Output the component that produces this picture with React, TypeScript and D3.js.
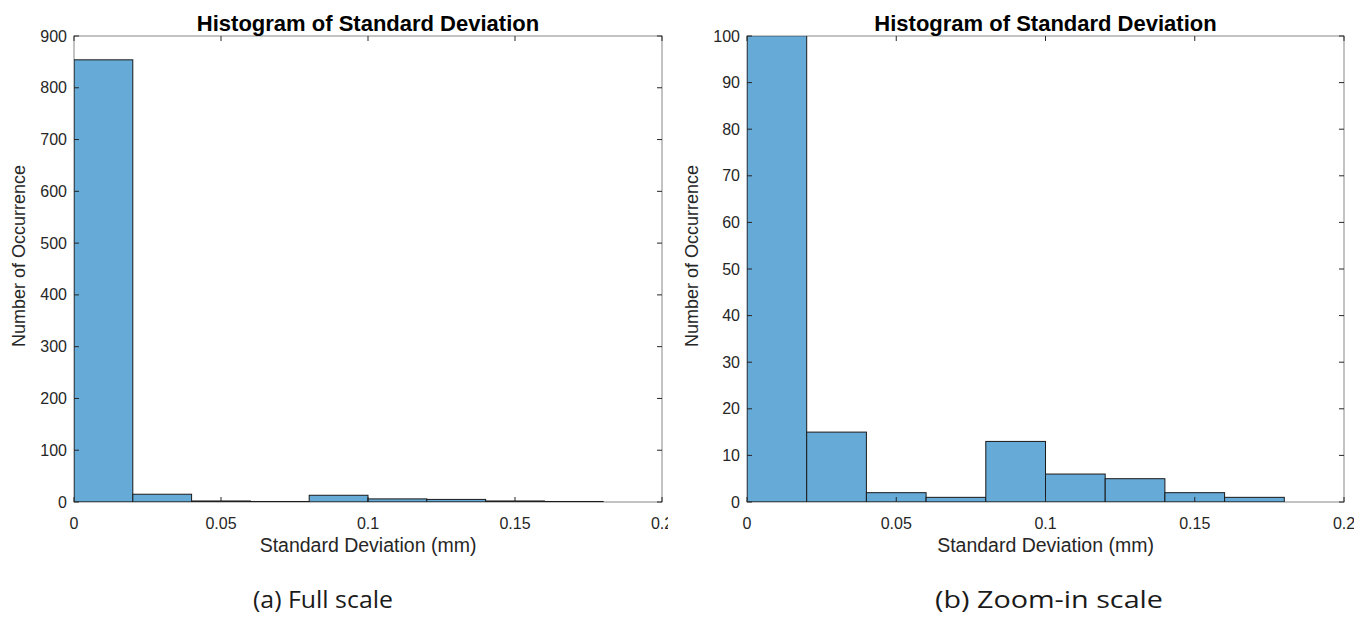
// Two MATLAB-style histograms of standard deviation, full scale and zoomed in.
import * as d3 from "d3";

const binEdges = [0, 0.02, 0.04, 0.06, 0.08, 0.1, 0.12, 0.14, 0.16, 0.18, 0.2];
const counts = [854, 15, 2, 1, 13, 6, 5, 2, 1, 0];
const xTicks = [0, 0.05, 0.1, 0.15, 0.2];
const yTicksFull = [0, 100, 200, 300, 400, 500, 600, 700, 800, 900];
const yTicksZoom = [0, 10, 20, 30, 40, 50, 60, 70, 80, 90, 100];

const TITLE = "Histogram of Standard Deviation";
const XLABEL = "Standard Deviation (mm)";
const YLABEL = "Number of Occurrence";

const FILL = "#66aad7";
const AXIS = "#262626";
const FONT = "'Liberation Sans', Arial, Helvetica, sans-serif";

function Panel({ id, left, right, top, bottom, yMax, yTicks, caption, captionX, captionW, clipRight }) {
  const x = d3.scaleLinear().domain([0, 0.2]).range([left, right]);
  const y = d3.scaleLinear().domain([0, yMax]).range([bottom, top]);
  const tick = 5;
  const bars = counts.map((c, i) => ({ x0: binEdges[i], x1: binEdges[i + 1], c }));
  const midX = (left + right) / 2;

  return (
    <g>
      <defs>
        <clipPath id={`plot-${id}`}>
          <rect x={left} y={top} width={right - left} height={bottom - top} />
        </clipPath>
        <clipPath id={`page-${id}`}>
          <rect x={0} y={0} width={clipRight} height={619} />
        </clipPath>
      </defs>

      <g clipPath={`url(#plot-${id})`}>
        {bars.filter(b => b.c > 0).map((b, i) => (
          <rect key={i}
            x={x(b.x0)} y={y(b.c)}
            width={x(b.x1) - x(b.x0)} height={bottom - y(b.c)}
            fill={FILL} stroke="#1a1a1a" strokeWidth={1} />
        ))}
      </g>

      {/* box */}
      <rect x={left} y={top} width={right - left} height={bottom - top}
        fill="none" stroke={AXIS} strokeWidth={1} opacity={0.55} />

      {/* x ticks, inward top and bottom */}
      {xTicks.map(t => (
        <g key={t}>
          <line x1={x(t)} x2={x(t)} y1={bottom} y2={bottom - tick} stroke={AXIS} />
          <line x1={x(t)} x2={x(t)} y1={top} y2={top + tick} stroke={AXIS} />
        </g>
      ))}
      {/* y ticks, inward left and right */}
      {yTicks.map(t => (
        <g key={t}>
          <line x1={left} x2={left + tick} y1={y(t)} y2={y(t)} stroke={AXIS} />
          <line x1={right} x2={right - tick} y1={y(t)} y2={y(t)} stroke={AXIS} />
        </g>
      ))}

      <g clipPath={`url(#page-${id})`} fontFamily={FONT} fontSize={16} fill={AXIS}>
        {xTicks.map(t => (
          <text key={t} x={x(t)} y={bottom + 27} textAnchor="middle">{d3.format("~g")(t)}</text>
        ))}
      </g>
      <g fontFamily={FONT} fill={AXIS}>
        {yTicks.map(t => (
          <text key={t} x={left - 7} y={y(t)} dy="0.35em" textAnchor="end" fontSize={16}>{t}</text>
        ))}
        <text x={midX} y={bottom + 50} textAnchor="middle" fontSize={19.5}>{XLABEL}</text>
        <text transform={`translate(${left - 49},256) rotate(-90)`} textAnchor="middle" fontSize={18}>{YLABEL}</text>
      </g>

      <text x={midX} y={top - 5} textAnchor="middle" fontFamily={FONT}
        fontSize={22} fontWeight="bold" fill="#000">{TITLE}</text>

      <text x={captionX} y={608} textAnchor="middle" fontFamily="'Open Sans', 'Noto Sans', sans-serif"
        fontSize={24} fill="#1a1a1a" textLength={captionW} lengthAdjust="spacingAndGlyphs">{caption}</text>
    </g>
  );
}

export default function App() {
  return (
    <svg width={1354} height={619} style={{ position: "absolute", left: 0, top: 0, background: "#fff" }}>
      <rect width={1354} height={619} fill="#fff" />
      <Panel id="a" left={74} right={662} top={36} bottom={502} yMax={900}
        yTicks={yTicksFull} caption="(a) Full scale" captionX={323} captionW={140} clipRight={668} />
      <Panel id="b" left={747} right={1344} top={36} bottom={502} yMax={100}
        yTicks={yTicksZoom} caption="(b) Zoom-in scale" captionX={1049} captionW={228} clipRight={1354} />
    </svg>
  );
}
